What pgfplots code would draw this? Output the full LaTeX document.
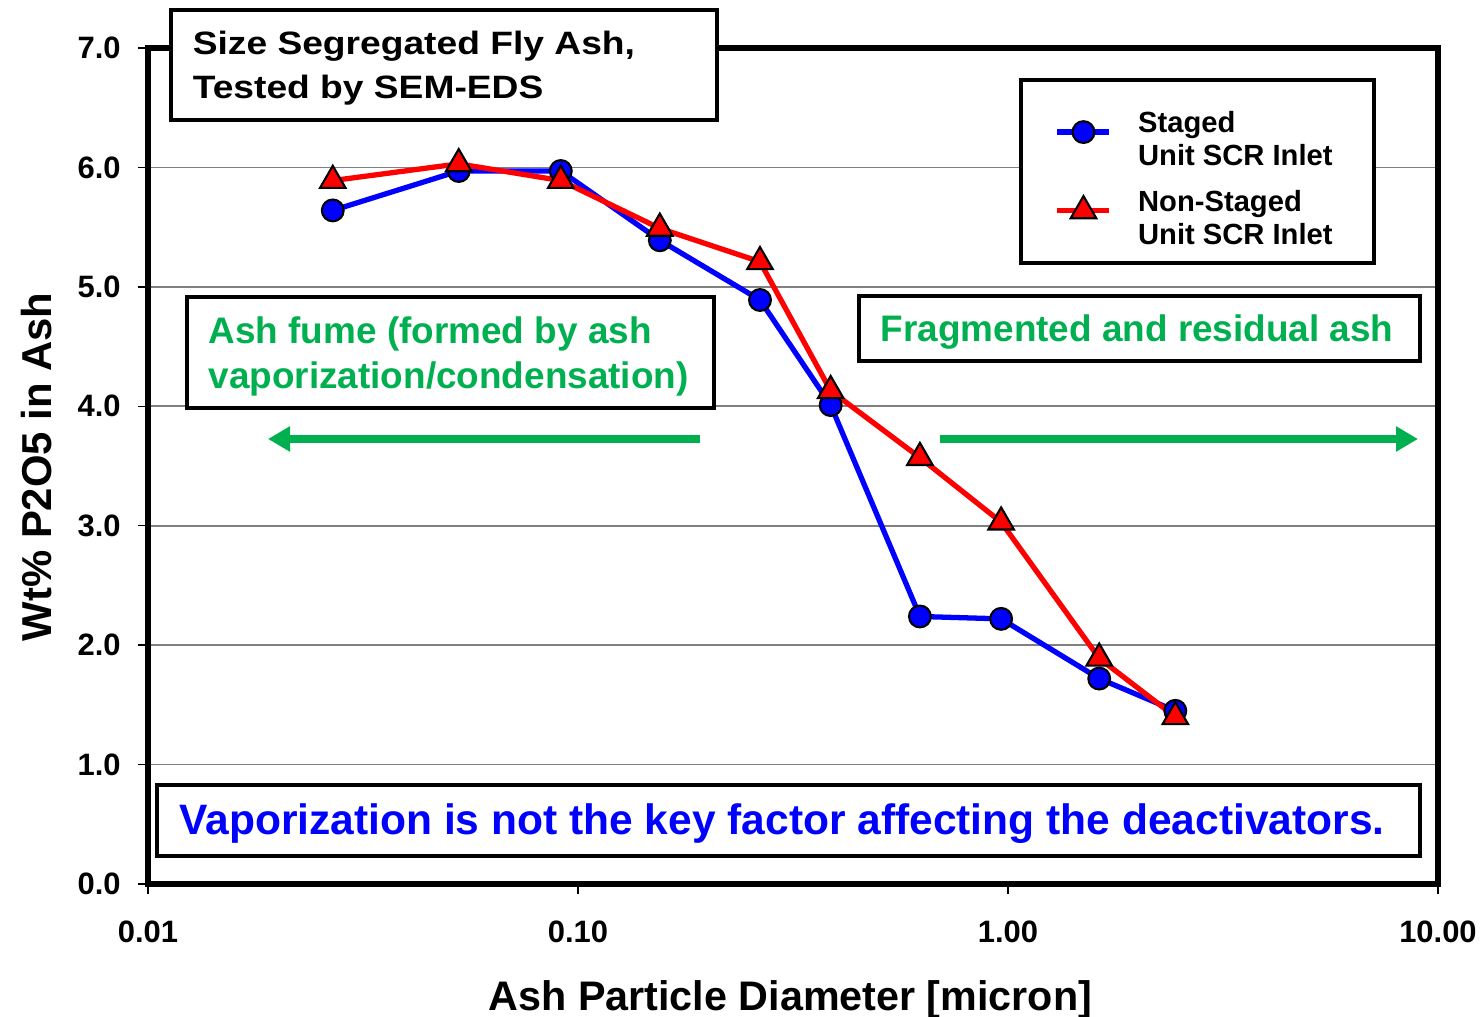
\documentclass[border=0pt]{standalone}
\usepackage{fontspec}
\setmainfont{Liberation Sans}
\usepackage{pgfplots}
\pgfplotsset{compat=1.18}
\usetikzlibrary{arrows.meta}
\definecolor{fgreen}{RGB}{0,176,80}
\begin{document}
\begin{tikzpicture}[x=1cm,y=1cm]
\path[use as bounding box] (0,0) rectangle (14.84,10.17);
\begin{axis}[at={(1.48cm,1.33cm)}, anchor=south west, scale only axis,
  width=12.9cm, height=8.36cm,
  xmode=log, log basis x=10, xmin=0.01, xmax=10, ymin=0, ymax=7,
  xtick={0.01,0.1,1,10}, xticklabels={0.01,0.10,1.00,10.00},
  ytick={0,1,2,3,4,5,6,7},
  yticklabel style={/pgf/number format/fixed, /pgf/number format/fixed zerofill, /pgf/number format/precision=1, xshift=-0.5mm},
  /pgf/number format/assume math mode=true,
  ticklabel style={font=\fontsize{8.8}{10}\selectfont\bfseries},
  xticklabel style={yshift=-1.4mm},
  tick pos=left,
  axis line style={line width=1.5pt},
  tick style={black, line width=0.4pt},
  tick align=outside,
  major tick length=1mm, minor tick length=0.8mm,
  ymajorgrids, grid style={gray, line width=0.5pt},
  xlabel={Ash Particle Diameter [micron]},
  ylabel={Wt\% P2O5 in Ash},
  xlabel style={at={(axis description cs:0.498,-0.138)}, anchor=center, font=\fontsize{11.75}{14}\selectfont\bfseries},
  ylabel style={at={(axis description cs:-0.086,0.499)}, anchor=center, rotate=0, font=\fontsize{11.9}{14}\selectfont\bfseries},
  legend style={at={(axis description cs:0.675,0.964)}, anchor=north west, draw=black, line width=1.2pt,
    fill=white, font=\fontsize{8.3}{9.5}\selectfont\bfseries, inner xsep=3.4mm, inner ysep=2.2mm,
    row sep=1.9mm, column sep=1.9mm, cells={anchor=west}},
  legend image code/.code={\draw[mark repeat=2,mark phase=2] plot coordinates {(0cm,0cm) (0.26cm,0cm) (0.52cm,0cm)};},
]
\addplot[blue, line width=1.5pt, mark=*, mark size=3.1pt, mark options={fill=blue, draw=black, line width=0.6pt}]
  coordinates {(0.0269,5.64) (0.0528,5.97) (0.0912,5.97) (0.155,5.39) (0.265,4.89) (0.387,4.01) (0.624,2.24) (0.964,2.22) (1.63,1.72) (2.45,1.45)};
\addlegendentry{\begin{tabular}{@{}l@{}}Staged\\Unit SCR Inlet\end{tabular}}
\addplot[red, line width=1.5pt, mark=triangle*, mark size=4.2pt, mark options={fill=red, draw=black, line width=0.6pt}]
  coordinates {(0.0269,5.89) (0.0528,6.03) (0.0912,5.89) (0.155,5.49) (0.265,5.21) (0.387,4.13) (0.624,3.57) (0.964,3.03) (1.63,1.89) (2.45,1.40)};
\addlegendentry{\begin{tabular}{@{}l@{}}Non-Staged\\Unit SCR Inlet\end{tabular}}
\end{axis}
% title box
\draw[line width=1.2pt, fill=white] (1.71,10.07) rectangle (7.17,8.97);
\node[anchor=west, align=left, inner sep=0pt, xscale=1.15, font=\fontsize{9.2}{12.5}\selectfont\bfseries] at (1.92,9.49) {Size Segregated Fly Ash,\\Tested by SEM-EDS};
% green boxes
\draw[line width=1.2pt, fill=white] (1.87,7.20) rectangle (7.14,6.09);
\node[anchor=west, align=left, inner sep=0pt, text=fgreen, font=\fontsize{10.5}{12.8}\selectfont\bfseries] at (2.08,6.61) {Ash fume (formed by ash\\vaporization/condensation)};
\draw[line width=1.2pt, fill=white] (8.59,7.21) rectangle (14.20,6.56);
\node[anchor=west, inner sep=0pt, text=fgreen, font=\fontsize{10.5}{12}\selectfont\bfseries] at (8.80,6.85) {Fragmented and residual ash};
\draw[fgreen, line width=2.3pt, -{Triangle[length=2.2mm,width=2.4mm]}] (7.00,5.78) -- (2.68,5.78);
\draw[fgreen, line width=2.3pt, -{Triangle[length=2.2mm,width=2.4mm]}] (9.40,5.78) -- (14.18,5.78);
% blue box
\draw[line width=1.2pt, fill=white] (1.57,2.32) rectangle (14.20,1.61);
\node[inner sep=0pt, text=blue, font=\fontsize{12.1}{14}\selectfont\bfseries] at (7.82,1.93) {Vaporization is not the key factor affecting the deactivators.};
\end{tikzpicture}
\end{document}
